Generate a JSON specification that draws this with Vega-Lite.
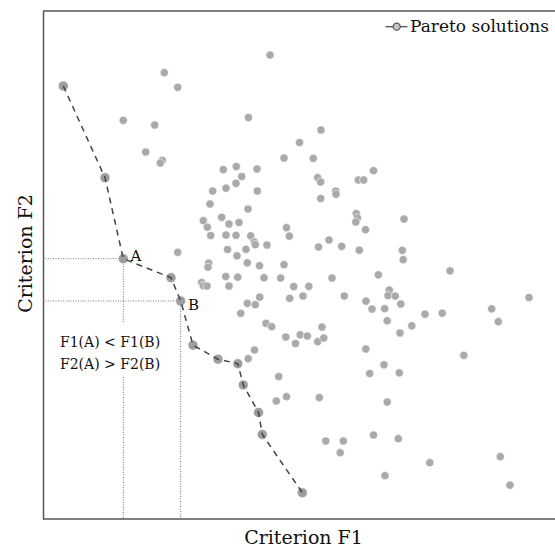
{
  "$schema": "https://vega.github.io/schema/vega-lite/v6.json",
  "width": 508,
  "height": 508,
  "autosize": "none",
  "padding": {"left": 43, "top": 11, "right": 4, "bottom": 29},
  "background": "white",
  "config": {
    "view": {"stroke": "transparent", "strokeWidth": 0},
    "font": "DejaVu Serif",
    "axis": {
      "labels": false, "ticks": false, "grid": false, "domain": true,
      "domainColor": "#555", "domainWidth": 1.5,
      "titleFont": "DejaVu Serif", "titleFontSize": 19, "titleFontWeight": "normal", "titleColor": "#111"
    }
  },
  "datasets": {
    "others": [
      {"f1": 121.3, "f2": 446.3}, {"f1": 134.7, "f2": 431.7}, {"f1": 227, "f2": 464}, {"f1": 80.3, "f2": 398.7},
      {"f1": 111.7, "f2": 394}, {"f1": 205.5, "f2": 401.5}, {"f1": 102.7, "f2": 367}, {"f1": 119.3, "f2": 358.7},
      {"f1": 117.3, "f2": 356}, {"f1": 180.3, "f2": 349.3}, {"f1": 193.3, "f2": 352.5}, {"f1": 214, "f2": 350},
      {"f1": 198.7, "f2": 342.5}, {"f1": 193, "f2": 335.7}, {"f1": 183, "f2": 330.8}, {"f1": 169.7, "f2": 328},
      {"f1": 214.3, "f2": 328}, {"f1": 167, "f2": 315}, {"f1": 205, "f2": 310}, {"f1": 178.7, "f2": 301.7},
      {"f1": 160.3, "f2": 298.3}, {"f1": 164.3, "f2": 291.8}, {"f1": 186, "f2": 295}, {"f1": 196, "f2": 296.5},
      {"f1": 167.7, "f2": 283.5}, {"f1": 183, "f2": 284}, {"f1": 193, "f2": 283.7}, {"f1": 207.7, "f2": 283.2},
      {"f1": 211.3, "f2": 277}, {"f1": 212.3, "f2": 274.3}, {"f1": 224, "f2": 274}, {"f1": 184.5, "f2": 269.5},
      {"f1": 203, "f2": 269.7}, {"f1": 194, "f2": 263.2}, {"f1": 204.3, "f2": 256.2}, {"f1": 216.5, "f2": 253.3},
      {"f1": 165.7, "f2": 255.8}, {"f1": 165, "f2": 251.8}, {"f1": 134.7, "f2": 266.7}, {"f1": 182.7, "f2": 242.5},
      {"f1": 194.7, "f2": 241.8}, {"f1": 221, "f2": 241.2}, {"f1": 278, "f2": 389}, {"f1": 256.5, "f2": 376.5},
      {"f1": 241, "f2": 361}, {"f1": 270.3, "f2": 360.7}, {"f1": 274.7, "f2": 341.3}, {"f1": 277.7, "f2": 337},
      {"f1": 315.3, "f2": 339}, {"f1": 320.7, "f2": 339}, {"f1": 330.5, "f2": 348.3}, {"f1": 292.7, "f2": 328},
      {"f1": 293, "f2": 324.8}, {"f1": 277.7, "f2": 320.5}, {"f1": 313.3, "f2": 305.5}, {"f1": 314.5, "f2": 301},
      {"f1": 312.8, "f2": 297}, {"f1": 361, "f2": 300}, {"f1": 322.5, "f2": 289.3}, {"f1": 243.5, "f2": 291.3},
      {"f1": 246.3, "f2": 282.8}, {"f1": 286, "f2": 279}, {"f1": 275.5, "f2": 272}, {"f1": 298.7, "f2": 272.7},
      {"f1": 316.3, "f2": 268.8}, {"f1": 359.3, "f2": 268.7}, {"f1": 360.2, "f2": 259.3}, {"f1": 407, "f2": 248.2},
      {"f1": 241, "f2": 254.3}, {"f1": 237.7, "f2": 241}, {"f1": 289, "f2": 241}, {"f1": 335.3, "f2": 244.2},
      {"f1": 158.7, "f2": 236.5}, {"f1": 160.3, "f2": 233.3}, {"f1": 164, "f2": 233}, {"f1": 186, "f2": 233},
      {"f1": 250.7, "f2": 232.5}, {"f1": 265.8, "f2": 232.7}, {"f1": 346.3, "f2": 229}, {"f1": 345, "f2": 223.3},
      {"f1": 352.2, "f2": 223}, {"f1": 323, "f2": 217.8}, {"f1": 486, "f2": 221.5}, {"f1": 246.7, "f2": 220.7},
      {"f1": 260, "f2": 223}, {"f1": 301.3, "f2": 223}, {"f1": 329, "f2": 210}, {"f1": 341.7, "f2": 210.3},
      {"f1": 357.8, "f2": 215}, {"f1": 344.2, "f2": 198.2}, {"f1": 357, "f2": 186}, {"f1": 368.8, "f2": 193.2},
      {"f1": 382, "f2": 204.8}, {"f1": 399.2, "f2": 205.8}, {"f1": 448.7, "f2": 210.2}, {"f1": 455.3, "f2": 197.3},
      {"f1": 420.8, "f2": 163.7}, {"f1": 216.7, "f2": 221.8}, {"f1": 204.3, "f2": 215.7}, {"f1": 212.3, "f2": 214.3},
      {"f1": 197.7, "f2": 205.7}, {"f1": 223, "f2": 195.7}, {"f1": 228.7, "f2": 192.3}, {"f1": 242.8, "f2": 182},
      {"f1": 252.5, "f2": 175.5}, {"f1": 257.2, "f2": 184.2}, {"f1": 264.3, "f2": 183}, {"f1": 279, "f2": 192},
      {"f1": 274.7, "f2": 177.3}, {"f1": 280.8, "f2": 181}, {"f1": 211.5, "f2": 169}, {"f1": 205.2, "f2": 160.3},
      {"f1": 322.8, "f2": 170}, {"f1": 341, "f2": 154.2}, {"f1": 326.7, "f2": 145.5}, {"f1": 356.3, "f2": 146.2},
      {"f1": 235.7, "f2": 142.5}, {"f1": 243.5, "f2": 122.3}, {"f1": 233.3, "f2": 118}, {"f1": 276.3, "f2": 121.5},
      {"f1": 344.2, "f2": 117}, {"f1": 282.8, "f2": 78}, {"f1": 300.3, "f2": 78}, {"f1": 297.2, "f2": 66.3},
      {"f1": 330.5, "f2": 84}, {"f1": 355.3, "f2": 80.3}, {"f1": 386.8, "f2": 56.3}, {"f1": 457.3, "f2": 62.3},
      {"f1": 342, "f2": 43.3}, {"f1": 467, "f2": 33.8}
    ],
    "pareto": [
      {"f1": 20.3, "f2": 433}, {"f1": 62, "f2": 341.3}, {"f1": 80.3, "f2": 260.3}, {"f1": 128, "f2": 241.3},
      {"f1": 137.7, "f2": 218}, {"f1": 150, "f2": 173.8}, {"f1": 175, "f2": 159.8}, {"f1": 194.8, "f2": 155.3},
      {"f1": 200.3, "f2": 134}, {"f1": 215.5, "f2": 106.5}, {"f1": 219.3, "f2": 84.5}, {"f1": 259.3, "f2": 26.3}
    ],
    "guides": [
      {"x": 0, "y": 260.3, "x2": 80.3, "y2": 260.3},
      {"x": 80.3, "y": 260.3, "x2": 80.3, "y2": 196},
      {"x": 80.3, "y": 142, "x2": 80.3, "y2": 0},
      {"x": 0, "y": 218, "x2": 137.7, "y2": 218},
      {"x": 137.7, "y": 218, "x2": 137.7, "y2": 0}
    ],
    "frame": [
      {"x": 0, "y": 508, "x2": 512, "y2": 508},
      {"x": 0, "y": 0, "x2": 512, "y2": 0}
    ],
    "legendLine": [
      {"x": 342.5, "y": 492.3, "x2": 364.5, "y2": 492.3}
    ],
    "legendEntry": [
      {"x": 353.7, "y": 492.3, "tx": 367, "ty": 486.8, "label": "Pareto solutions"}
    ],
    "notes": [
      {"x": 17, "y": 176, "label": "F1(A) < F1(B)"},
      {"x": 17, "y": 154, "label": "F2(A) > F2(B)"}
    ],
    "pointLabels": [
      {"x": 87.5, "y": 263.3, "label": "A"},
      {"x": 145, "y": 214, "label": "B"}
    ]
  },
  "layer": [
    {
      "data": {"name": "guides"},
      "mark": {"type": "rule", "color": "#777", "strokeWidth": 1, "strokeDash": [1, 1.5]},
      "encoding": {
        "x": {"field": "x", "type": "quantitative", "scale": {"domain": [0, 508], "nice": false, "zero": false}, "axis": {"title": "Criterion F1", "titlePadding": 9, "titleX": 260, "domain": false}},
        "y": {"field": "y", "type": "quantitative", "scale": {"domain": [0, 508], "nice": false, "zero": false}, "axis": {"title": "Criterion F2", "titlePadding": 8, "titleY": 242}},
        "x2": {"field": "x2"},
        "y2": {"field": "y2"}
      }
    },
    {
      "data": {"name": "frame"},
      "mark": {"type": "rule", "color": "#555", "strokeWidth": 1.5, "clip": false},
      "encoding": {
        "x": {"field": "x", "type": "quantitative"},
        "y": {"field": "y", "type": "quantitative"},
        "x2": {"field": "x2"},
        "y2": {"field": "y2"}
      }
    },
    {
      "data": {"name": "others"},
      "mark": {"type": "circle", "size": 68, "color": "#aaaaaa", "opacity": 1, "stroke": "white", "strokeWidth": 0.6},
      "encoding": {
        "x": {"field": "f1", "type": "quantitative"},
        "y": {"field": "f2", "type": "quantitative"}
      }
    },
    {
      "data": {"name": "pareto"},
      "mark": {"type": "circle", "size": 100, "color": "#9d9d9d", "opacity": 1, "stroke": "white", "strokeWidth": 0.6},
      "encoding": {
        "x": {"field": "f1", "type": "quantitative"},
        "y": {"field": "f2", "type": "quantitative"}
      }
    },
    {
      "data": {"name": "pareto"},
      "mark": {"type": "line", "color": "#444", "strokeWidth": 1.5, "strokeDash": [6, 5]},
      "encoding": {
        "x": {"field": "f1", "type": "quantitative"},
        "y": {"field": "f2", "type": "quantitative"}
      }
    },
    {
      "data": {"name": "legendLine"},
      "mark": {"type": "rule", "color": "#555", "strokeWidth": 1.3},
      "encoding": {
        "x": {"field": "x", "type": "quantitative"},
        "y": {"field": "y", "type": "quantitative"},
        "x2": {"field": "x2"},
        "y2": {"field": "y2"}
      }
    },
    {
      "data": {"name": "legendEntry"},
      "mark": {"type": "point", "shape": "circle", "filled": true, "size": 50, "fill": "#c4c4c4", "stroke": "#555", "strokeWidth": 1.2, "opacity": 1},
      "encoding": {
        "x": {"field": "x", "type": "quantitative"},
        "y": {"field": "y", "type": "quantitative"}
      }
    },
    {
      "data": {"name": "legendEntry"},
      "mark": {"type": "text", "align": "left", "baseline": "alphabetic", "font": "DejaVu Serif", "fontSize": 17, "color": "#111"},
      "encoding": {
        "x": {"field": "tx", "type": "quantitative"},
        "y": {"field": "ty", "type": "quantitative"},
        "text": {"field": "label"}
      }
    },
    {
      "data": {"name": "notes"},
      "mark": {"type": "text", "align": "left", "baseline": "middle", "font": "DejaVu Serif", "fontSize": 14, "color": "#111"},
      "encoding": {
        "x": {"field": "x", "type": "quantitative"},
        "y": {"field": "y", "type": "quantitative"},
        "text": {"field": "label"}
      }
    },
    {
      "data": {"name": "pointLabels"},
      "mark": {"type": "text", "align": "left", "baseline": "middle", "font": "DejaVu Serif", "fontSize": 15, "color": "#111"},
      "encoding": {
        "x": {"field": "x", "type": "quantitative"},
        "y": {"field": "y", "type": "quantitative"},
        "text": {"field": "label"}
      }
    }
  ]
}
